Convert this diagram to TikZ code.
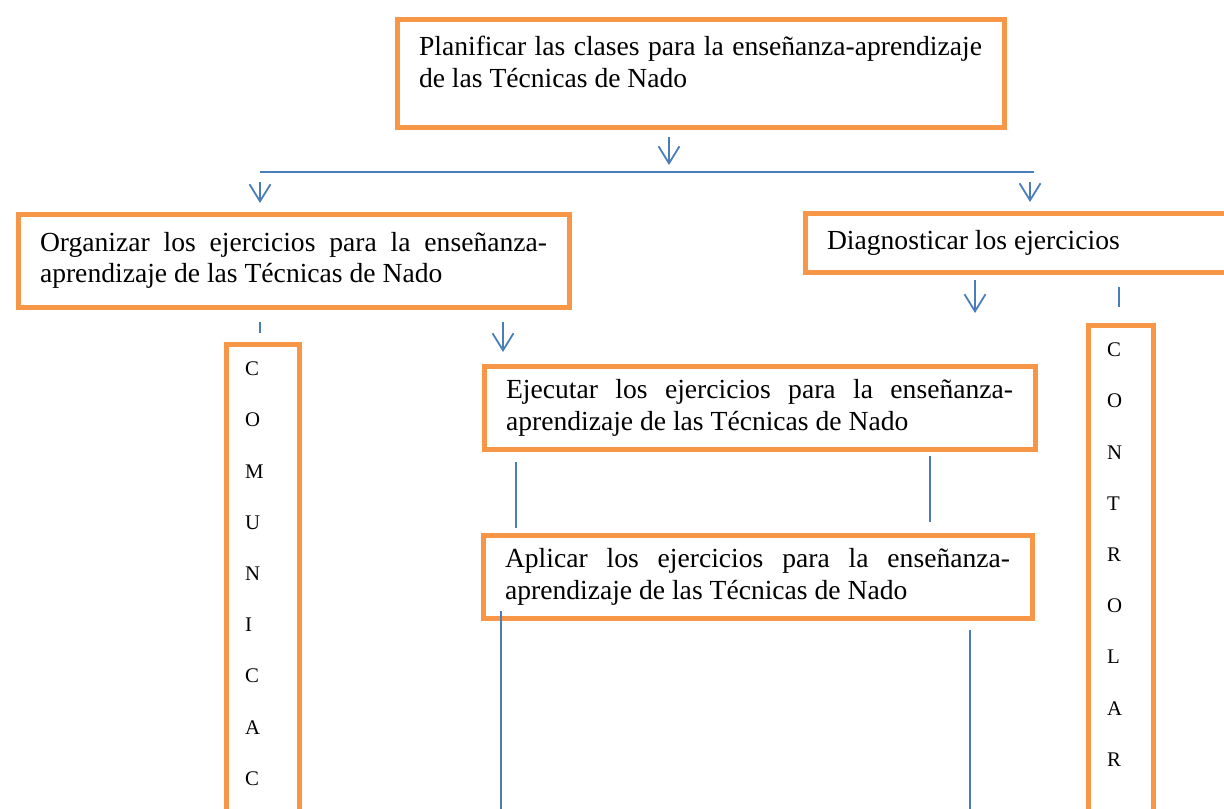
\documentclass[tikz,border=0pt]{standalone}
\usepackage{fontspec}
\setmainfont{Liberation Serif}
\usetikzlibrary{arrows.meta}
\definecolor{naranja}{HTML}{F79646}
\definecolor{azul}{HTML}{4A7EBB}
\hyphenpenalty=10000
\tolerance=10000
\begin{document}
\begin{tikzpicture}[x=0.5pt,y=-0.5pt,
  caja/.style={draw=naranja,line width=2.5pt,anchor=north west,inner xsep=11pt,inner ysep=6.75pt,
    align=justify,font=\fontsize{13.8pt}{15.75pt}\selectfont},
  columna/.style={draw=naranja,line width=2.5pt,anchor=north west,inner xsep=9.5pt,inner ysep=9pt,
    align=left,text depth=220pt,font=\fontsize{10.4pt}{25.6pt}\selectfont},
  linea/.style={azul,line width=0.9pt},
  flecha/.style={linea,-{Straight Barb[length=8.5pt,width=10.5pt]}}]
  \useasboundingbox (0,0) rectangle (1224,808);
  \clip (0,0) rectangle (1224,808);
  % Cajas de las tareas
  \node[caja,text width=281.5pt,inner ysep=8.25pt,text depth=27.5pt] (plan) at (394.5,17.5)
    {Planificar las clases para la enseñanza-aprendizaje\linebreak{} de las Técnicas de Nado};
  \node[caja,text width=253.5pt,minimum height=46.5pt] (organizar) at (15.5,211.5)
    {Organizar los ejercicios para la enseñanza-\linebreak{}aprendizaje de las Técnicas de Nado};
  \node[caja,text width=196.75pt,minimum height=29.5pt] (diagnosticar) at (802.5,210.5)
    {Diagnosticar los ejercicios};
  \node[caja,text width=253.5pt,minimum height=41pt] (ejecutar) at (481.5,363.5)
    {Ejecutar los ejercicios para la enseñanza-\linebreak{}aprendizaje de las Técnicas de Nado};
  \node[caja,text width=252.5pt,minimum height=40pt] (aplicar) at (480.5,532.5)
    {Aplicar los ejercicios para la enseñanza-\linebreak{}aprendizaje de las Técnicas de Nado};
  % Columnas verticales
  \node[columna,text width=17.5pt] (comunicar) at (223.5,341.5)
    {C\\O\\M\\U\\N\\I\\C\\A\\C};
  \node[columna,text width=13.5pt] (controlar) at (1085.5,322.5)
    {C\\O\\N\\T\\R\\O\\L\\A\\R};
  % Reparto desde la planificacion
  \coordinate (p1) at (669,137);  \coordinate (p2) at (669,165);
  \coordinate (b1) at (260,172);  \coordinate (b2) at (1034,172);
  \coordinate (o1) at (260,182);  \coordinate (o2) at (260,203);
  \coordinate (d1) at (1030,182); \coordinate (d2) at (1030,202);
  \draw[flecha] (p1) -- (p2);
  \draw[linea] (b1) -- (b2);
  \draw[flecha] (o1) -- (o2);
  \draw[flecha] (d1) -- (d2);
  % Bajo organizar y diagnosticar
  \coordinate (c1) at (260,322);  \coordinate (c2) at (260,333);
  \coordinate (e1) at (503,322);  \coordinate (e2) at (503,352);
  \coordinate (g1) at (975,280);  \coordinate (g2) at (975,313);
  \coordinate (t1) at (1119,287); \coordinate (t2) at (1119,307);
  \draw[linea] (c1) -- (c2);
  \draw[flecha] (e1) -- (e2);
  \draw[flecha] (g1) -- (g2);
  \draw[linea] (t1) -- (t2);
  % Entre ejecutar y aplicar
  \coordinate (j1) at (516,462);  \coordinate (j2) at (516,528);
  \coordinate (k1) at (930,456);  \coordinate (k2) at (930,522);
  \draw[linea] (j1) -- (j2);
  \draw[linea] (k1) -- (k2);
  % Bajo aplicar
  \coordinate (a1) at (501,611);  \coordinate (a2) at (501,830);
  \coordinate (r1) at (970,630);  \coordinate (r2) at (970,830);
  \draw[linea] (a1) -- (a2);
  \draw[linea] (r1) -- (r2);
\end{tikzpicture}
\end{document}
